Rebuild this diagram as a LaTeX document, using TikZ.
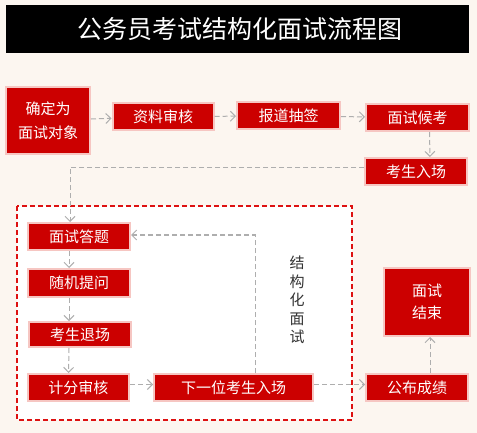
\documentclass[tikz,border=0pt]{standalone}
\usepackage{fontspec}
\setmainfont{Noto Sans CJK SC}
\usetikzlibrary{positioning, arrows.meta}
\definecolor{bgcream}{HTML}{FCF6F0}
\definecolor{boxred}{HTML}{CC0000}
\definecolor{glowpink}{HTML}{F6C6C2}
\definecolor{flowgray}{HTML}{AEAEAE}
\definecolor{framered}{HTML}{DD1111}

\begin{document}
\begin{tikzpicture}[x=1pt, y=-1pt,
  stepbox/.style={draw=glowpink, line width=2pt, fill=boxred, text=white, font=\fontsize{15}{18}\selectfont,
    inner sep=0pt, minimum width=102pt, minimum height=27pt, align=center},
  flow/.style={draw=flowgray, line width=1pt, dash pattern=on 5pt off 3pt, -{Straight Barb[length=5pt, width=10pt]}}]
  \fill[bgcream] (0,0) rectangle (477,433);
  \useasboundingbox (0,0) rectangle (477,433);

  \node[fill=black, text=white, inner sep=0pt, minimum width=463pt, minimum height=48pt,
    font=\fontsize{25}{25}\selectfont] (title) at (237.5,29) {\hspace*{5pt}公务员考试结构化面试流程图};
  \draw[framered, line width=1.5pt, dash pattern=on 5pt off 3pt, fill=white] (17,206) rectangle (352,420);

  \node[stepbox, minimum width=84pt, minimum height=67pt, font=\fontsize{15}{24}\selectfont] (target) at (48,120.5) {确定为\\面试对象};
  \node[stepbox, minimum width=101pt] (review) at (163,116.5) {资料审核};
  \node[stepbox, minimum width=103pt] (lottery) at (288.5,116) {报道抽签};
  \node[stepbox, minimum width=103pt] (waiting) at (417.5,117.5) {面试候考};
  \node[stepbox] (enter) at (416,171.5) {考生入场};
  \node[stepbox] (answer) at (79,236.5) {面试答题};
  \node[stepbox, minimum height=28pt] (question) at (79,283) {随机提问};
  \node[stepbox, minimum height=25pt] (leave) at (80,334.5) {考生退场};
  \node[stepbox, minimum width=101pt] (score) at (78.5,387.5) {计分审核};
  \node[stepbox, minimum width=159pt] (next) at (233.5,387.5) {下一位考生入场};
  \node[stepbox] (publish) at (417,387.5) {公布成绩};
  \node[stepbox, minimum width=86pt, minimum height=68pt, font=\fontsize{15}{22}\selectfont] (finish) at (427,302) {面试\\结束};
  \node[text=black!80, align=center, font=\fontsize{15}{18.5}\selectfont] (label) at (297,300) {结\\构\\化\\面\\试};

  \draw[flow] (target) -- (review);
  \draw[flow] (review) -- (lottery);
  \draw[flow] (lottery) -- (waiting);
  \draw[flow] ([xshift=12pt]waiting.south) -- ([xshift=14pt]enter.north);
  \draw[flow] ([yshift=4pt]enter.west) -| ([xshift=-9pt]answer.north);
  \draw[flow] ([xshift=-10pt]answer.south) -- ([xshift=-10pt]question.north);
  \draw[flow] ([xshift=-10pt]question.south) -- ([xshift=-11pt]leave.north);
  \draw[flow] ([xshift=-11pt]leave.south) -- ([xshift=-10pt]score.north);
  \draw[flow] ([yshift=3pt]score.east) -- ([yshift=3pt]next.west);
  \draw[flow] ([yshift=3pt]next.east) -- ([yshift=3pt]publish.west);
  \draw[flow] ([xshift=21.5pt]next.north) |- ([yshift=1.5pt]answer.east);
  \draw[flow] ([xshift=13pt]publish.north) -- ([xshift=3pt]finish.south);
\end{tikzpicture}
\end{document}
